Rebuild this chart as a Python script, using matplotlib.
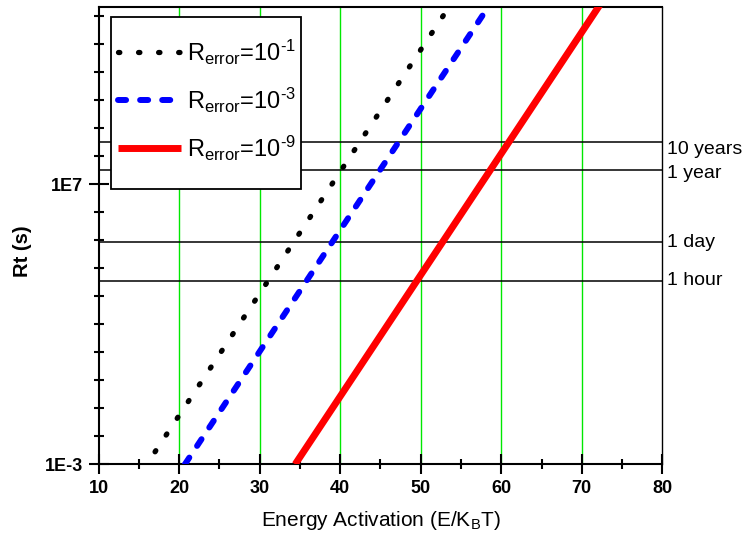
import numpy as np
import matplotlib
matplotlib.use('Agg')
import matplotlib.pyplot as plt
from matplotlib.ticker import FixedLocator, NullFormatter
from matplotlib.patches import Rectangle

plt.rcParams['font.family'] = 'Liberation Sans'
plt.rcParams['mathtext.fontset'] = 'custom'
plt.rcParams['mathtext.rm'] = 'Liberation Sans'
plt.rcParams['mathtext.it'] = 'Liberation Sans'
plt.rcParams['mathtext.bf'] = 'Liberation Sans:bold'

# datos (extremos de cada recta en escala log)
energia_e1 = [17.0, 54.0]
rt_e1 = [2.8e-3, 3.5e13]
energia_e3 = [20.7, 59.0]
rt_e3 = [1e-3, 4e13]
energia_e9 = [34.4, 72.7]
rt_e9 = [1e-3, 4e13]
rerror = ['-1', '-3', '-9']

# tiempos de referencia (s)
tiempos = [3.15e8, 3.15e7, 8.64e4, 3.6e3]
etiquetas_t = ['10 years', '1 year', '1 day', '1 hour']
desplaz_t = [-5.5, -2.5, -0.5, 0.0]   # ajuste vertical de cada texto (pt)

fig = plt.figure(figsize=(7.53, 5.43), dpi=100)
ax = fig.add_axes([0.1311, 0.1449, 0.7484, 0.8428])

ax.set_yscale('log')
ax.set_xlim(10, 80)
ax.set_ylim(1e-3, 2.2e13)

# lineas verdes verticales
for xv in [20, 30, 40, 50, 60, 70]:
    ax.axvline(xv, color='#00e800', lw=1.0, zorder=1)

# lineas horizontales de tiempo
for tt, et, dy in zip(tiempos, etiquetas_t, desplaz_t):
    ax.axhline(tt, color='black', lw=1.1, zorder=2)
    ax.annotate(et, xy=(1.0, tt), xycoords=('axes fraction', 'data'),
                xytext=(3.6, dy), textcoords='offset points',
                ha='left', va='center', fontsize=14, annotation_clip=False)

l1, = ax.plot(energia_e1, rt_e1, color='black', lw=3.8,
              linestyle=(0, (0.25, 3.55)), dash_capstyle='round', zorder=3)
l2, = ax.plot(energia_e3, rt_e3, color='#0000ff', lw=4.3,
              linestyle=(0, (1.35, 2.35)), dash_capstyle='round', zorder=3)
l3, = ax.plot(energia_e9, rt_e9, color='#ff0000', lw=5.0,
              solid_capstyle='butt', zorder=3)

# ejes
for s in ['left', 'bottom', 'top']:
    ax.spines[s].set_linewidth(1.5)
ax.spines['right'].set_linewidth(1.0)

ax.set_xticks([10, 20, 30, 40, 50, 60, 70, 80])
ax.set_xticks([15, 25, 35, 45, 55, 65, 75], minor=True)
ax.yaxis.set_major_locator(FixedLocator([1e-3, 1e7]))
ax.yaxis.set_minor_locator(FixedLocator([10.0**k for k in range(-3, 14)]))
ax.yaxis.set_minor_formatter(NullFormatter())
ax.set_yticklabels(['1E-3', '1E7'])

ax.tick_params(which='major', direction='inout', length=14, width=1.5,
               labelsize=13, pad=4)
ax.tick_params(which='minor', direction='inout', length=7, width=1.5)
for lab in ax.get_xticklabels() + ax.get_yticklabels():
    lab.set_fontweight('bold')

ax.set_xlabel(r'Energy Activation (E/K$_\mathregular{B}$T)', fontsize=15)
ax.set_ylabel('Rt (s)', fontsize=14.5, fontweight='bold')
ax.yaxis.set_label_coords(-0.118, 0.466)
ax.xaxis.set_label_coords(0.5, -0.098)

# caja de la leyenda dibujada aparte
caja = Rectangle((0.0213, 0.6016), 0.3385, 0.3754, transform=ax.transAxes,
                 facecolor='white', edgecolor='black', lw=1.3, zorder=4)
ax.add_patch(caja)

etiquetas_leg = [r'R$_{\mathregular{error}}$=10$^{\text{%s}}$' % r for r in rerror]
leg = ax.legend([l1, l2, l3], etiquetas_leg,
                loc='center left', bbox_to_anchor=(0.0342, 0.796),
                borderaxespad=0, borderpad=0, fontsize=17, handlelength=2.67,
                handletextpad=0.25, labelspacing=0.8, frameon=False)
leg.set_zorder(5)

plt.savefig('out.png', dpi=100)
